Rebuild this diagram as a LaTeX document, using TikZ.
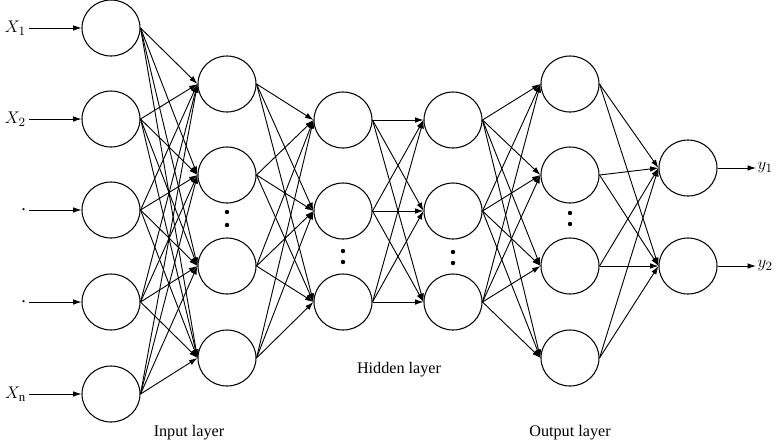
\documentclass[tikz,border=0pt]{standalone}
\usepackage{fontspec}
\setmainfont{Liberation Serif}
\usetikzlibrary{arrows.meta}
\usetikzlibrary{shapes.geometric}

\tikzset{
  neuron/.style={draw, ellipse, line width=0.75pt, minimum width=1.45cm, minimum height=1.4cm, inner sep=0pt},
  link/.style={-{Latex[length=2.1mm,width=1.4mm]}, line width=0.65pt},
  vdot/.style={fill, circle, inner sep=0pt, minimum size=1.1mm},
  sig/.style={font=\fontsize{13}{15}\selectfont}
}

\begin{document}
\begin{tikzpicture}[x=0.025cm, y=-0.025cm, font=\fontsize{11.5}{13}\selectfont]
        \useasboundingbox (0,0) rectangle (779,443);

        % layers
        \foreach \i/\y in {1/28, 2/119, 3/210, 4/302, 5/394}
          \node[neuron] (a\i) at (111,\y) {};
        \foreach \i/\y in {1/84, 2/175, 3/266, 4/358}
          \node[neuron] (b\i) at (227,\y) {};
        \foreach \i/\y in {1/120, 2/211, 3/302}
          \node[neuron] (c\i) at (343,\y) {};
        \foreach \i/\y in {1/120, 2/211, 3/302}
          \node[neuron] (d\i) at (453,\y) {};
        \foreach \i/\y in {1/84, 2/175, 3/266, 4/358}
          \node[neuron] (e\i) at (570,\y) {};
        \foreach \i/\y in {1/168, 2/266}
          \node[neuron] (f\i) at (688,\y) {};

        % dots
        \node[vdot] (db1) at (227,212) {};
        \node[vdot] (db2) at (227,225) {};
        \node[vdot] (dc1) at (343,251) {};
        \node[vdot] (dc2) at (343,262) {};
        \node[vdot] (dd1) at (453,252) {};
        \node[vdot] (dd2) at (453,263) {};
        \node[vdot] (de1) at (570,213) {};
        \node[vdot] (de2) at (570,224) {};

        % inputs
        \node[sig, anchor=east, inner sep=2pt] (x1) at (29,28) {$X_1$};
        \node[sig, anchor=east, inner sep=2pt] (x2) at (29,119) {$X_2$};
        \node[sig, anchor=east, inner sep=2pt] (x3) at (29,210) {.};
        \node[sig, anchor=east, inner sep=2pt] (x4) at (29,302) {.};
        \node[sig, anchor=east, inner sep=2pt] (x5) at (29,394) {$X_{\mathrm{n}}$};
        \foreach \i in {1,...,5}
          \draw[link] (x\i.east |- a\i) -- (a\i.west);

        % outputs
        \node[sig, anchor=west, inner sep=1pt] (y1) at (756,168) {$y_1$};
        \node[sig, anchor=west, inner sep=1pt] (y2) at (756,266) {$y_2$};
        \foreach \i in {1,2}
          \draw[link] (f\i.east) -- (y\i.west |- f\i);

        % connections
        \foreach \i in {1,...,5}
          \foreach \j in {1,...,4}
            \draw[link] (a\i.east) -- (b\j.west);
        \foreach \i in {1,...,4}
          \foreach \j in {1,...,3}
            \draw[link] (b\i.east) -- (c\j.west);
        \foreach \i in {1,...,3}
          \foreach \j in {1,...,3}
            \draw[link] (c\i.east) -- (d\j.west);
        \foreach \i in {1,...,3}
          \foreach \j in {1,...,4}
            \draw[link] (d\i.east) -- (e\j.west);
        \foreach \i in {1,...,4}
          \foreach \j in {1,2}
            \draw[link] (e\i.east) -- (f\j.west);

        % captions
        \node (inlab) at (189,433) {Input layer};
        \node (hidlab) at (399,370) {Hidden layer};
        \node (outlab) at (570,433) {Output layer};
\end{tikzpicture}
\end{document}
